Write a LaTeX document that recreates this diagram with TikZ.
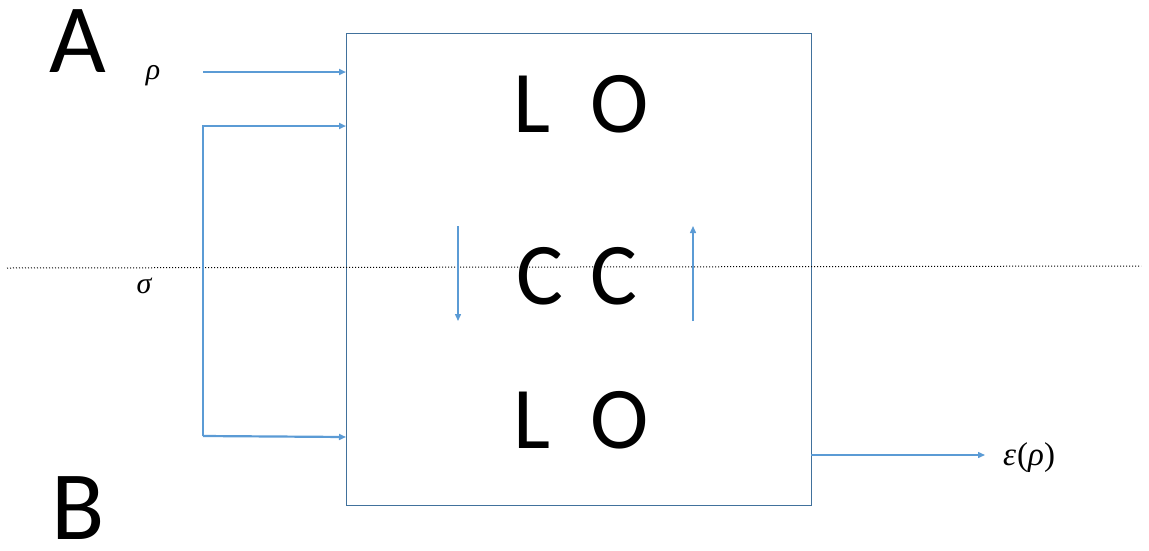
\documentclass[tikz,border=0pt]{standalone}
\usepackage{fontspec}
\setmainfont{Carlito}
\newfontfamily\grk{Liberation Serif}
\usetikzlibrary{arrows.meta}
\definecolor{arr}{RGB}{91,155,213}
\definecolor{boxc}{RGB}{65,113,156}
\tikzset{
  conn/.style={draw=arr, line width=2.2pt, -{Triangle[length=7pt,width=6pt]}},
  thin conn/.style={draw=arr, line width=1.4pt, -{Triangle[length=7pt,width=6pt]}},
  big/.style={font=\fontsize{88}{88}\selectfont, inner sep=0pt},
  huge/.style={font=\fontsize{98}{98}\selectfont, inner sep=0pt, text depth=0pt, anchor=base},
  lbl/.style={font=\grk\itshape\fontsize{30}{30}\selectfont, inner sep=0pt}
}
\begin{document}
\begin{tikzpicture}[x=1pt,y=-1pt]
\useasboundingbox (0,0) rectangle (1149,550);
% main box
\node[draw=boxc, line width=1.1pt, minimum width=465pt, minimum height=472pt, inner sep=0pt, anchor=north west] (box) at (346,33) {};
% dotted line
\coordinate (dl) at (7,268);
\coordinate (dr) at (1141,266);
\draw[dotted, line width=1pt] (dl) -- (dr);
% texts
\node[huge] (A) at (78,72) {A};
\node[huge] (B) at (78,539) {B};
\node[big] (lo1) at (581,104) {L\hspace{0.45em}O};
\node[big] (cc) at (577,276) {C\hspace{0.3em}C};
\node[big] (lo2) at (581,420) {L\hspace{0.45em}O};
\node[lbl] (rho) at (153,76) {ρ};
\node[lbl] (sigma) at (144,286) {σ};
\node[lbl, font=\grk\itshape\fontsize{33}{33}\selectfont, anchor=west] (eps) at (1003,458) {ε\kern1pt{\upshape(}ρ{\upshape)}};
% input connectors
\coordinate (r0) at (203,72);
\coordinate (s0) at (203,126);
\coordinate (s1) at (203,436);
\draw[conn] (r0) -- (r0 -| box.west);
\draw[conn] (s1) -- (s0) -- (s0 -| box.west);
\draw[conn] (s1) -- (346,437);
% output
\coordinate (o0) at (811,455);
\draw[thin conn] (o0) -- (985,455);
% inner arrows
\coordinate (d0) at (458,226);
\coordinate (d1) at (458,321);
\coordinate (u0) at (693,321);
\coordinate (u1) at (693,226);
\draw[thin conn] (d0) -- (d1);
\draw[thin conn] (u0) -- (u1);
\end{tikzpicture}
\end{document}
